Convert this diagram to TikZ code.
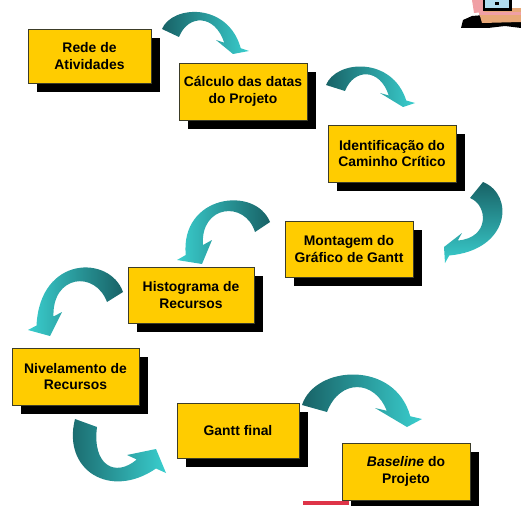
\documentclass[tikz,border=0pt]{standalone}
\usepackage{fontspec}
\setmainfont{Liberation Sans}
\usetikzlibrary{shadows}
\definecolor{boxyellow}{RGB}{255,204,0}
\definecolor{boxline}{RGB}{60,60,40}
\definecolor{tealdark}{RGB}{24,98,102}
\definecolor{teallight}{RGB}{58,206,206}
\definecolor{barred}{RGB}{222,52,72}
\definecolor{clipskin}{RGB}{232,168,120}
\definecolor{clippink}{RGB}{240,160,165}
\definecolor{clipscreen}{RGB}{176,220,240}
\begin{document}
\begin{tikzpicture}[x=1pt,y=-1pt,
  stepbox/.style={draw=boxline, line width=0.8pt, fill=boxyellow,
    align=center, inner sep=0pt,
    font=\bfseries\fontsize{13.9}{16.7}\selectfont,
    drop shadow={shadow xshift=9pt, shadow yshift=-9pt, fill=black, opacity=1}},
  fwd/.style={left color=tealdark, right color=teallight},
  back/.style={left color=teallight, right color=tealdark},
  down/.style={top color=tealdark, bottom color=teallight}]
\useasboundingbox (0,0) rectangle (521,505);

% process steps
\node[stepbox, minimum width=123pt, minimum height=54pt] (rede) at (89.5,56) {Rede de\\Atividades};
\node[stepbox, minimum width=128pt, minimum height=57pt] (calculo) at (243,91.5) {Cálculo das datas\\do Projeto};
\node[stepbox, minimum width=128pt, minimum height=57pt] (caminho) at (392,153.5) {Identificação do\\Caminho Crítico};
\node[stepbox, minimum width=128pt, minimum height=56pt] (montagem) at (349,249) {Montagem do\\Gráfico de Gantt};
\node[stepbox, minimum width=126pt, minimum height=56pt] (histograma) at (191,295) {Histograma de\\Recursos};
\node[stepbox, minimum width=127pt, minimum height=57pt] (nivelamento) at (75.5,376.5) {Nivelamento de\\Recursos};
\node[stepbox, minimum width=122pt, minimum height=55pt] (ganttfinal) at (238,430.5) {Gantt final};
\node[stepbox, minimum width=128pt, minimum height=57pt] (baseline) at (406,471.5) {\textit{Baseline} do\\Projeto};

% curved ribbon arrows between the steps
\shade[fwd] (162,29) .. controls (172,5) and (228,2) .. (240.75,48.25)
  -- (249,51) -- (233,54) -- (216,40) -- (224.25,42.75)
  .. controls (215,14) and (188,14) .. (179,37) -- cycle;
\shade[fwd] (326,85) .. controls (336,60) and (392,56) .. (406.25,100.5)
  -- (415,103) -- (403,107) -- (380,93) -- (388.75,95.5)
  .. controls (380,68) and (354,68) .. (345,91) -- cycle;
\shade[down] (483,182) .. controls (515,195) and (510,250) .. (449.25,255.5)
  -- (445,263) -- (444,247) -- (462,233) -- (457.75,240.5)
  .. controls (490,238) and (488,205) .. (470,198) -- cycle;
\shade[back] (270,222) .. controls (255,185) and (180,195) .. (185.75,255)
  -- (177,260) -- (202,264) -- (212,240) -- (203,245)
  .. controls (200,205) and (245,200) .. (255,232) -- cycle;
\shade[back] (123,292) .. controls (110,255) and (40,255) .. (36.5,325.5)
  -- (28,330) -- (50,336) -- (62,312) -- (53.5,316.5)
  .. controls (52,275) and (95,270) .. (107,302) -- cycle;
\shade[fwd] (75,419) .. controls (62,470) and (110,500) .. (156,468.5)
  -- (166,473) -- (156,449) -- (127,455) -- (136.75,459.5)
  .. controls (115,478) and (92,465) .. (97,427) -- cycle;
\shade[fwd] (302,405) .. controls (315,365) and (395,360) .. (410.25,416.25)
  -- (422,419) -- (407,427) -- (375,408) -- (386.75,410.75)
  .. controls (375,380) and (340,378) .. (327,412) -- cycle;

% red mark at the bottom edge
\fill[barred] (303,501) rectangle (349,505);

% computer clip art in the corner
\fill[black] (461,28) -- (463,20) -- (472,16) -- (521,12) -- (521,28) -- (505,26) -- (488,28) -- cycle;
\fill[clipskin] (478,9) -- (521,8) -- (521,22) -- (482,23) -- cycle;
\fill[clippink] (479,12) rectangle (521,15);
\fill[clippink] (472,0) -- (484,0) -- (484,12) -- (474,13) -- cycle;
\fill[black] (483,0) rectangle (512,11);
\fill[clipscreen] (485,0) rectangle (509,8);
\fill[black] (495,2) rectangle (499,5);
\end{tikzpicture}
\end{document}
